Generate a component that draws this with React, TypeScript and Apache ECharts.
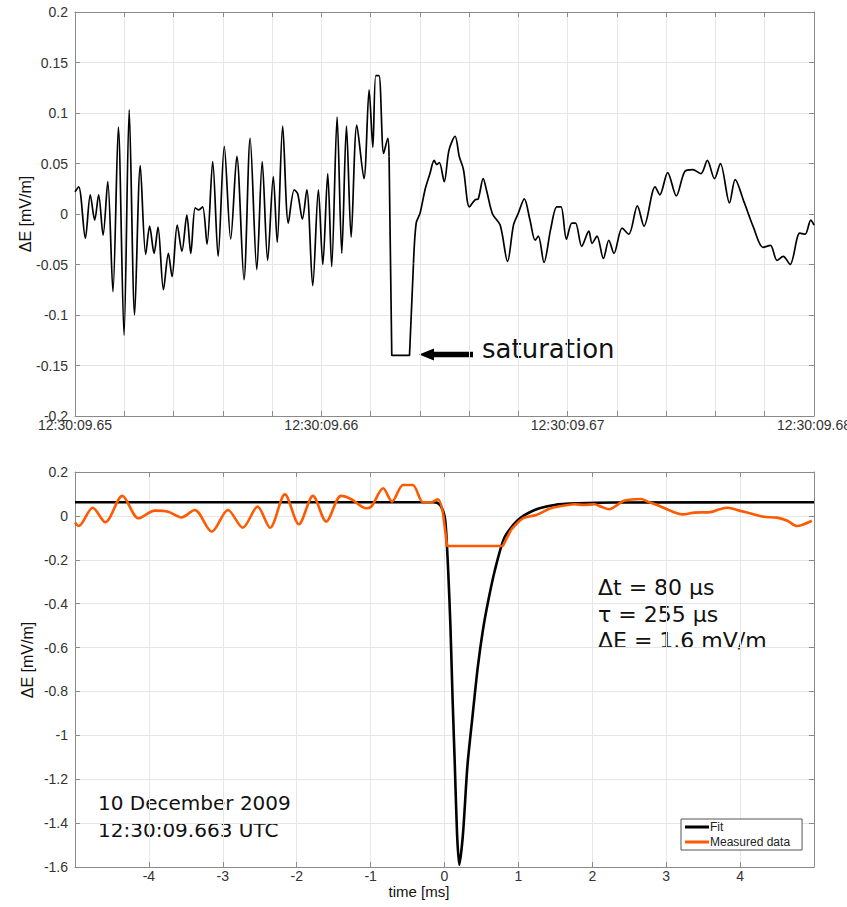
import React, { useEffect, useRef } from 'react';
import * as echarts from 'echarts';

// ---------- Top panel: raw record, time in ms after 12:30:09.65 ----------
const topTimeMs = [
  0.0, 0.15, 0.42, 0.62, 0.8, 0.96, 1.14, 1.33, 1.54, 1.76, 1.99, 2.2, 2.42, 2.65, 2.87, 3.03,
  3.21, 3.37, 3.59, 3.79, 3.94, 4.15, 4.34, 4.54, 4.7, 4.88, 5.02, 5.18, 5.36, 5.59, 5.81, 6.06,
  6.32, 6.57, 6.86, 7.11, 7.38, 7.6, 7.82, 8.05, 8.21, 8.43, 8.66, 8.9, 9.04, 9.23, 9.41, 9.65,
  9.88, 10.06, 10.26, 10.42, 10.64, 10.83, 11.02, 11.21, 11.44, 11.73, 11.94, 12.09, 12.21, 12.34,
  12.53, 12.7, 12.75, 12.86, 13.58, 13.74, 13.85, 14.01, 14.21, 14.41, 14.58, 14.69, 14.79, 14.99,
  15.18, 15.43, 15.6, 15.77, 16.01, 16.24, 16.37, 16.57, 16.72, 16.95, 17.26, 17.56, 17.8, 18.0,
  18.24, 18.47, 18.68, 18.81, 19.04, 19.31, 19.56, 19.73, 19.95, 20.17, 20.32, 20.57, 20.86, 20.99,
  21.19, 21.45, 21.67, 21.88, 22.21, 22.48, 22.83, 23.1, 23.55, 23.74, 24.06, 24.41, 24.75, 25.07,
  25.41, 25.67, 25.96, 26.2, 26.57, 26.8, 27.16, 27.54, 27.93, 28.23, 28.5, 28.75, 29.03, 29.42,
  29.64, 29.87, 30.0,
];
const topField = [
  0.022, 0.027, -0.024, 0.019, -0.006, 0.019, -0.021, 0.032, -0.077, 0.086, -0.12, 0.103, -0.1, 0.048, -0.04, -0.012,
  -0.039, -0.013, -0.075, -0.039, -0.062, -0.011, -0.037, -0.001, -0.039, 0.006, 0.004, 0.007, -0.03, 0.052, -0.042, 0.067,
  -0.025, 0.057, -0.065, 0.075, -0.055, 0.052, -0.046, 0.037, -0.028, 0.087, -0.009, 0.024, 0.02, -0.005, 0.024, -0.071,
  0.024, -0.05, 0.04, -0.052, 0.096, -0.039, 0.087, -0.023, 0.088, 0.035, 0.123, 0.066, 0.137, 0.137,
  0.06, 0.075, 0.057, -0.14, -0.14, -0.049, -0.009, 0.001, 0.024, 0.04, 0.053, 0.049, 0.051, 0.032,
  0.063, 0.077, 0.057, 0.044, 0.007, 0.014, 0.015, 0.035, 0.022, 0.0, -0.011, -0.047, -0.011, 0.001,
  0.015, -0.006, -0.026, -0.022, -0.048, -0.015, 0.007, 0.007, -0.025, -0.009, -0.009, -0.032, -0.017, -0.029,
  -0.022, -0.044, -0.026, -0.039, -0.014, -0.02, 0.008, -0.012, 0.027, 0.019, 0.041, 0.018, 0.042, 0.044,
  0.04, 0.053, 0.035, 0.05, 0.011, 0.034, 0.012, -0.013, -0.033, -0.031, -0.046, -0.042, -0.05, -0.019,
  -0.02, -0.006, -0.011,
];
const topSaturation = -0.14;
const topTickLabels = ['12:30:09.65', '12:30:09.66', '12:30:09.67', '12:30:09.68'];

// ---------- Bottom panel: fit vs measured, time in ms ----------
const fitTime = [
  -5, -0.15, -0.1, -0.05, 0, 0.02, 0.05, 0.08, 0.11, 0.14, 0.17, 0.2, 0.25, 0.31, 0.38, 0.45,
  0.52, 0.59, 0.68, 0.81, 0.99, 1.22, 1.49, 1.8, 2.3, 5,
];
const fitField = [
  0.062, 0.062, 0.06, 0.045, 0.0, -0.06, -0.25, -0.5, -0.84, -1.14, -1.45, -1.59, -1.45, -1.14, -0.91, -0.69,
  -0.52, -0.39, -0.25, -0.1, -0.02, 0.027, 0.05, 0.057, 0.061, 0.062,
];
const measTime = [
  -5.0, -4.95, -4.76, -4.59, -4.36, -4.14, -3.92, -3.74, -3.56, -3.38, -3.15, -2.93, -2.73, -2.53, -2.36, -2.16,
  -1.97, -1.78, -1.6, -1.4, -1.26, -1.06, -0.99, -0.83, -0.71, -0.56, -0.43, -0.29, -0.18, -0.09, -0.02, 0.035,
  0.79, 0.9, 1.06, 1.24, 1.44, 1.67, 1.76, 1.89, 2.03, 2.12, 2.23, 2.32, 2.43, 2.66, 2.75, 2.93,
  3.09, 3.22, 3.38, 3.6, 3.72, 3.83, 3.99, 4.17, 4.32, 4.5, 4.64, 4.77, 4.84, 4.97,
];
const measField = [
  -0.03, -0.046, 0.037, -0.029, 0.091, -0.011, 0.024, 0.019, -0.007, 0.027, -0.072, 0.027, -0.054, 0.042, -0.054, 0.098,
  -0.038, 0.091, -0.026, 0.091, 0.076, 0.035, 0.042, 0.126, 0.065, 0.141, 0.141, 0.062, 0.062, 0.076, 0.012, -0.137,
  -0.137, -0.064, -0.011, 0.004, 0.035, 0.05, 0.053, 0.05, 0.053, 0.042, 0.03, 0.046, 0.069, 0.077, 0.065, 0.042,
  0.019, 0.007, 0.015, 0.017, 0.03, 0.037, 0.024, 0.009, -0.004, -0.008, -0.022, -0.046, -0.041, -0.022,
];
const measSaturation = -0.137;

const legendNames = ['Fit', 'Measured data'];

// split a record into [before, saturated (straight), after]
function splitSaturated(t: number[], v: number[], sat: number) {
  const pts = t.map((x, i) => [x, v[i]]);
  let first = -1;
  let last = -1;
  v.forEach((y, i) => {
    if (y <= sat + 1e-9) {
      if (first < 0) first = i;
      last = i;
    }
  });
  return [pts.slice(0, first), pts.slice(first - 1, last + 2), pts.slice(last + 1)];
}

const AXIS = '#8a8a8a';
const LABEL = '#333333';
const GRIDLINE = '#e6e6e6';
const ORANGE = '#ff5a00';
const SANS = 'Liberation Sans, Arial, sans-serif';
const DEJAVU = 'DejaVu Sans, sans-serif';

export default function App() {
  const ref = useRef<HTMLDivElement>(null);
  useEffect(() => {
    if (!ref.current) return;
    const chart = echarts.init(ref.current, undefined, { renderer: 'svg' });
    const [tA, tSat, tB] = splitSaturated(topTimeMs, topField, topSaturation);
    const [mA, mSat, mB] = splitSaturated(measTime, measField, measSaturation);
    const fitPts = fitTime.map((x, i) => [x, fitField[i]]);

    const mainX = (grid: number, min: number, max: number, interval: number, extra: any) => ({
      gridIndex: grid,
      type: 'value',
      min,
      max,
      interval,
      position: 'bottom',
      axisLine: { show: true, onZero: false, lineStyle: { color: AXIS, width: 1 } },
      axisTick: { show: true, inside: true, length: 5, lineStyle: { color: AXIS } },
      splitLine: { show: true, lineStyle: { color: GRIDLINE, width: 1 } },
      axisLabel: { color: LABEL, fontSize: 14, fontFamily: SANS, margin: 2, ...extra },
    });
    const mirrorX = (grid: number, min: number, max: number, interval: number) => ({
      gridIndex: grid,
      type: 'value',
      min,
      max,
      interval,
      position: 'top',
      axisLine: { show: true, onZero: false, lineStyle: { color: AXIS, width: 1 } },
      axisTick: { show: true, inside: true, length: 5, lineStyle: { color: AXIS } },
      splitLine: { show: false },
      axisLabel: { show: false },
    });
    const mainY = (grid: number, min: number, max: number, interval: number) => ({
      gridIndex: grid,
      type: 'value',
      min,
      max,
      interval,
      position: 'left',
      axisLine: { show: true, onZero: false, lineStyle: { color: AXIS, width: 1 } },
      axisTick: { show: true, inside: true, length: 5, lineStyle: { color: AXIS } },
      splitLine: { show: true, lineStyle: { color: GRIDLINE, width: 1 } },
      axisLabel: { color: LABEL, fontSize: 14, fontFamily: SANS, margin: 7 },
    });
    const mirrorY = (grid: number, min: number, max: number, interval: number) => ({
      gridIndex: grid,
      type: 'value',
      min,
      max,
      interval,
      position: 'right',
      axisLine: { show: true, onZero: false, lineStyle: { color: AXIS, width: 1 } },
      axisTick: { show: true, inside: true, length: 5, lineStyle: { color: AXIS } },
      splitLine: { show: false },
      axisLabel: { show: false },
    });

    const topLine = (data: any[], smooth: number | boolean) => ({
      type: 'line',
      name: 'record',
      xAxisIndex: 0,
      yAxisIndex: 0,
      data,
      showSymbol: false,
      smooth,
      lineStyle: { color: '#000', width: 1.7 },
      itemStyle: { color: '#000' },
    });
    const measLine = (data: any[], smooth: number | boolean) => ({
      type: 'line',
      name: legendNames[1],
      xAxisIndex: 2,
      yAxisIndex: 2,
      data,
      showSymbol: false,
      smooth,
      z: 4,
      lineStyle: { color: ORANGE, width: 2.6 },
      itemStyle: { color: ORANGE },
    });

    const txt = (text: string, x: number, y: number, font: string, align = 'left', rotation = 0) => ({
      type: 'text',
      x,
      y,
      rotation,
      style: { text, font, fill: '#111', align, verticalAlign: 'middle', textAlign: align, textVerticalAlign: 'middle' },
    });

    chart.setOption({
      animation: false,
      backgroundColor: '#fff',
      grid: [
        { left: 75, top: 12, width: 739, height: 404, outerBoundsMode: 'none' },
        { left: 75, top: 472, width: 739, height: 395, outerBoundsMode: 'none' },
      ],
      xAxis: [
        mainX(0, 0, 30, 2, {
          formatter: (v: number) => (Math.abs(v % 10) < 1e-6 ? topTickLabels[Math.round(v / 10)] : ''),
          showMinLabel: true,
          showMaxLabel: true,
        }),
        mirrorX(0, 0, 30, 2),
        mainX(1, -5, 5, 1, { showMinLabel: false, showMaxLabel: false }),
        mirrorX(1, -5, 5, 1),
      ],
      yAxis: [
        mainY(0, -0.2, 0.2, 0.05),
        mirrorY(0, -0.2, 0.2, 0.05),
        mainY(1, -1.6, 0.2, 0.2),
        mirrorY(1, -1.6, 0.2, 0.2),
      ],
      legend: {
        data: legendNames,
        orient: 'vertical',
        left: 681,
        top: 819,
        icon: 'rect',
        itemWidth: 24,
        itemHeight: 3,
        itemGap: 3,
        padding: [2, 12, 2, 4],
        borderColor: '#555',
        borderWidth: 1,
        borderRadius: 0,
        backgroundColor: '#fff',
        textStyle: { fontSize: 12, fontFamily: SANS, color: '#222', padding: [0, 0, 0, -4] },
      },
      series: [
        topLine(tA, 0.3),
        topLine(tSat, false),
        topLine(tB, 0.3),
        {
          type: 'line',
          name: legendNames[0],
          xAxisIndex: 2,
          yAxisIndex: 2,
          data: fitPts,
          showSymbol: false,
          smooth: 0.25,
          z: 3,
          lineStyle: { color: '#000', width: 2.6 },
          itemStyle: { color: '#000' },
        },
        measLine(mA, 0.3),
        measLine(mSat, false),
        measLine(mB, 0.3),
      ],
      graphic: [
        txt('ΔE [mV/m]', 25, 214, `16px ${SANS}`, 'center', Math.PI / 2),
        txt('ΔE [mV/m]', 27, 660, `16px ${SANS}`, 'center', Math.PI / 2),
        txt('time [ms]', 419, 891, `15px ${SANS}`, 'center'),
        txt('saturation', 482, 349, `26px ${DEJAVU}`),
        { type: 'line', shape: { x1: 431, y1: 354.5, x2: 473, y2: 354.5 }, style: { stroke: '#000', lineWidth: 5.5 } },
        { type: 'polygon', shape: { points: [[419, 354.5], [434, 348.5], [434, 360.5]] }, style: { fill: '#000' } },
        txt('Δt = 80 μs', 598, 587, `22px ${DEJAVU}`),
        txt('τ = 255 μs', 598, 614, `22px ${DEJAVU}`),
        txt('ΔE = 1.6 mV/m', 598, 640, `22px ${DEJAVU}`),
        txt('10 December 2009', 98, 803, `20px ${DEJAVU}`),
        txt('12:30:09.663 UTC', 98, 830, `20px ${DEJAVU}`),
      ],
    });
    return () => chart.dispose();
  }, []);
  return <div ref={ref} style={{ position: 'absolute', left: 0, top: 0, width: 847, height: 907, background: '#fff' }} />;
}
